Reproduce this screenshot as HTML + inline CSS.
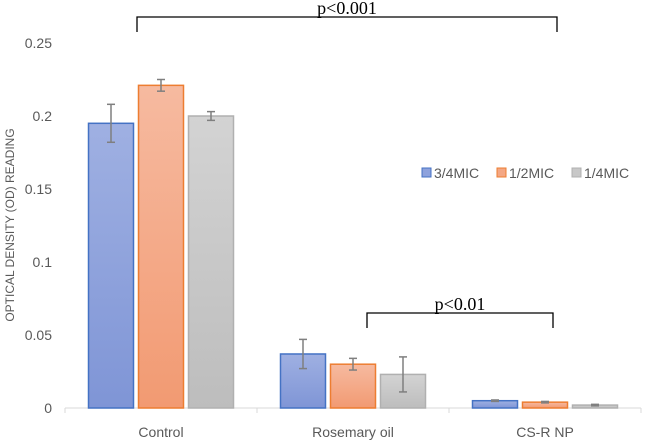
<!DOCTYPE html>
<html><head><meta charset="utf-8"><style>
body{margin:0;background:#fff;}
svg text{font-family:"Liberation Sans",sans-serif;}
</style></head><body>
<svg id="c" width="646" height="440">
<defs>
<linearGradient id="gb" x1="0" y1="0" x2="0" y2="1"><stop offset="0" stop-color="#9fb0e2"/><stop offset="1" stop-color="#7f95d6"/></linearGradient>
<linearGradient id="go" x1="0" y1="0" x2="0" y2="1"><stop offset="0" stop-color="#f6baa0"/><stop offset="1" stop-color="#f29a72"/></linearGradient>
<linearGradient id="gg" x1="0" y1="0" x2="0" y2="1"><stop offset="0" stop-color="#d3d3d3"/><stop offset="1" stop-color="#bdbdbd"/></linearGradient>
</defs>
</svg>
<script>
const categories=["Control","Rosemary oil","CS-R NP"];
const seriesNames=["3/4MIC","1/2MIC","1/4MIC"];
const s34=[0.195,0.037,0.005];
const s12=[0.221,0.030,0.004];
const s14=[0.200,0.023,0.002];
const e34=[0.013,0.010,0.0005];
const e12=[0.004,0.004,0.0005];
const e14=[0.003,0.012,0.0005];
const yTicks=[0,0.05,0.1,0.15,0.2,0.25];
const yLabels=["0","0.05","0.1","0.15","0.2","0.25"];
const NS="http://www.w3.org/2000/svg";
const svg=document.getElementById('c');
const X0=65,CW=192,Y0=408,PPU=73/0.05;
const y=v=>Y0-v*PPU;
const cx=i=>X0+CW*i+CW/2;
function mk(t,a,p){const e=document.createElementNS(NS,t);for(const k in a)e.setAttribute(k,a[k]);(p||svg).appendChild(e);return e;}
yTicks.forEach((v,i)=>{const t=mk('text',{x:52,y:y(v)+5,'text-anchor':'end','font-size':14,fill:'#595959'});t.textContent=yLabels[i];

});
const yt=mk('text',{x:14,y:225,'text-anchor':'middle','font-size':12,fill:'#595959',transform:'rotate(-90 14 225)'});yt.textContent="OPTICAL DENSITY (OD)  READING";


const ax=mk('line',{x1:X0,x2:X0+3*CW,y1:Y0,y2:Y0,stroke:'#d9d9d9','stroke-width':1});


for(let i=0;i<=3;i++){const tk=mk('line',{x1:X0+CW*i,x2:X0+CW*i,y1:Y0,y2:Y0+5,stroke:'#d9d9d9'});

}
categories.forEach((c,i)=>{const t=mk('text',{x:cx(i),y:437,'text-anchor':'middle','font-size':14,fill:'#595959'});t.textContent=c;

});
const series=[s34,s12,s14],errs=[e34,e12,e14];
const fills=['url(#gb)','url(#go)','url(#gg)'],strokes=['#4472c4','#ed7d31','#b0b0b0'];
const BW=45,G=5;
categories.forEach((c,i)=>{series.forEach((s,j)=>{
 const bx=cx(i)+(j-1)*(BW+G)-BW/2;
 const r=mk('rect',{x:bx,y:y(s[i]),width:BW,height:Y0-y(s[i]),fill:fills[j],stroke:strokes[j],'stroke-width':1.5});
 
 
 const m=bx+BW/2,hi=y(s[i]+errs[j][i]),lo=y(s[i]-errs[j][i]);
 const g=mk('g',{stroke:'#7f7f7f','stroke-width':1.5});
 
 
 mk('line',{x1:m,x2:m,y1:hi,y2:lo},g);mk('line',{x1:m-4,x2:m+4,y1:hi,y2:hi},g);mk('line',{x1:m-4,x2:m+4,y1:lo,y2:lo},g);
});});
function bracket(x1,x2,yt,yb,label,name){const g=mk('g',{});


mk('path',{d:`M${x1} ${yb}V${yt}H${x2}V${yb}`,fill:'none',stroke:'#000','stroke-width':1.3},g);
const t=mk('text',{x:(x1+x2)/2,y:yt-3,'text-anchor':'middle','font-size':18,fill:'#000'},g);t.textContent=label;t.style.fontFamily='"Liberation Serif",serif';}
bracket(137,557,17,32,'p<0.001','significance-bracket-control');
bracket(367,553,313,328,'p<0.01','significance-bracket-rosemary');
const lc=['#8ea2dd','#f4a784','#c8c8c8'];
[[422,'3/4MIC'],[497,'1/2MIC'],[572,'1/4MIC']].forEach((l,j)=>{
 const g=mk('g',{});
 
 
 mk('rect',{x:l[0],y:168,width:9,height:9,fill:lc[j],stroke:strokes[j]},g);
 const t=mk('text',{x:l[0]+12,y:178,'font-size':14,fill:'#595959'},g);t.textContent=l[1];
});
</script>
</body></html>
